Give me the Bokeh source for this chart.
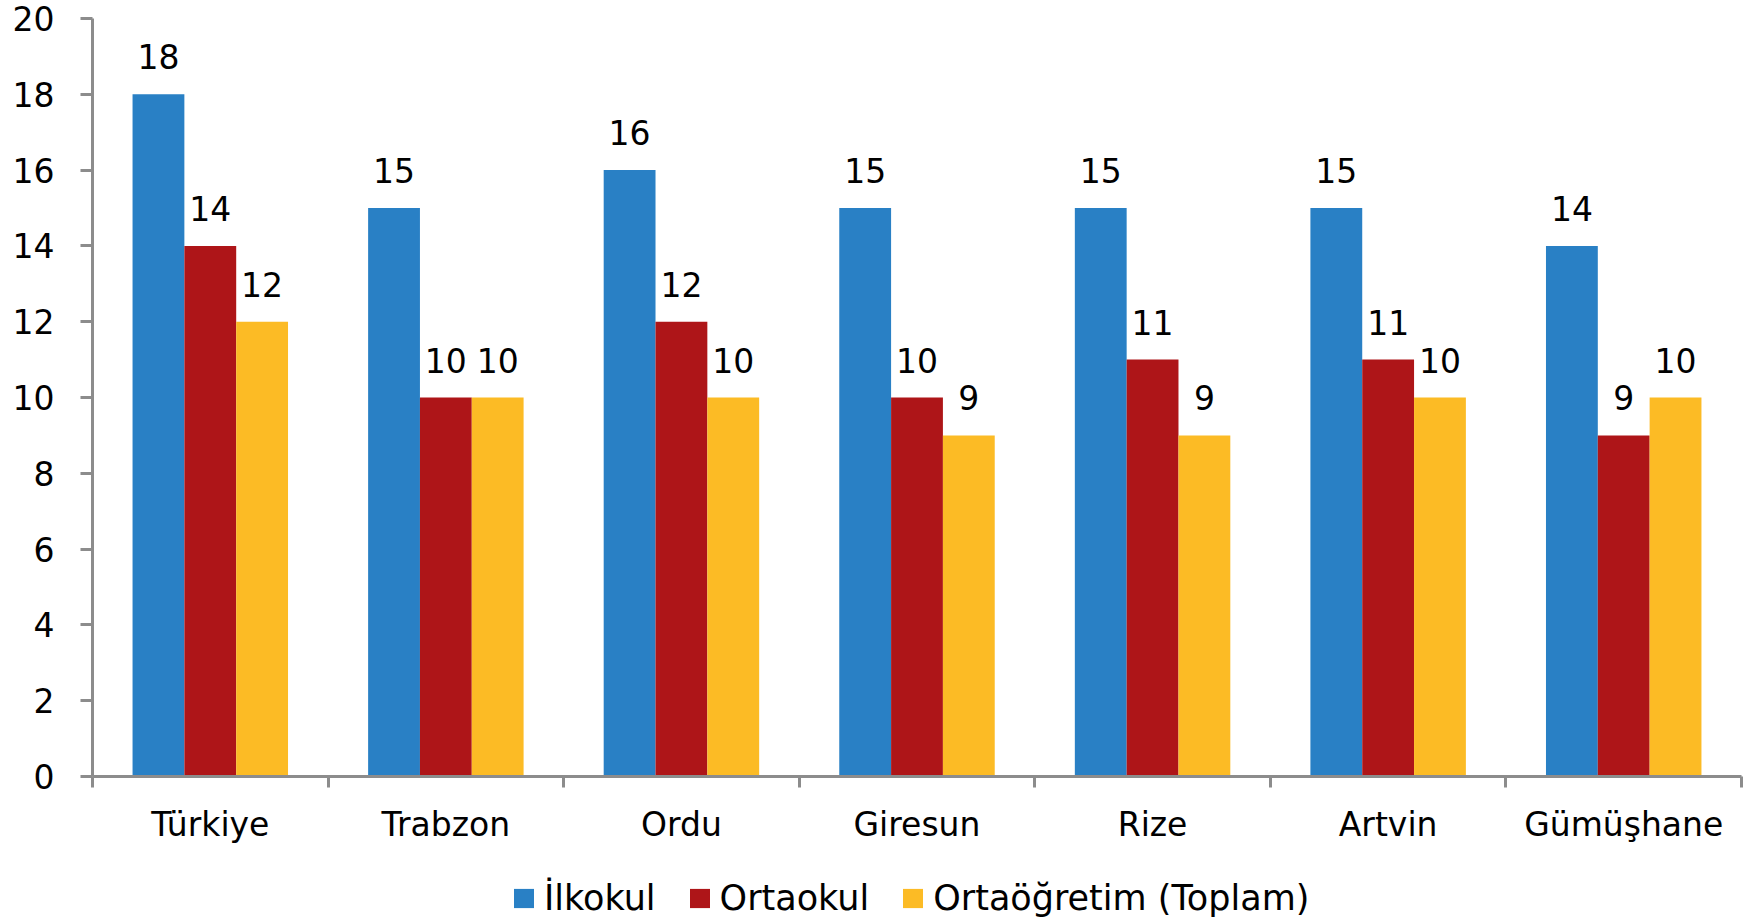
from bokeh.plotting import figure
from bokeh.layouts import column
from bokeh.models import ColumnDataSource, Range1d, FixedTicker, LabelSet, Legend, LegendItem
from bokeh.core.properties import value
from bokeh.embed import file_html
from bokeh.resources import INLINE

categories = ["Türkiye", "Trabzon", "Ordu", "Giresun", "Rize", "Artvin", "Gümüşhane"]
series_names = ["İlkokul", "Ortaokul", "Ortaöğretim (Toplam)"]
ilkokul = [18, 15, 16, 15, 15, 15, 14]
ortaokul = [14, 10, 12, 10, 11, 11, 9]
ortaogretim = [12, 10, 10, 9, 9, 10, 10]
y_ticks = [0, 2, 4, 6, 8, 10, 12, 14, 16, 18, 20]

colors = ["#2980C5", "#AE1518", "#FCBB25"]
FONT = "DejaVu Sans"
FS = "33px"

p = figure(frame_width=1649, frame_height=758, output_backend="svg", toolbar_location=None,
           x_range=Range1d(0, len(categories)), y_range=Range1d(0, 20),
           min_border_left=92, min_border_top=18, min_border_right=4, min_border_bottom=60)
p.outline_line_color = None
p.xgrid.visible = False
p.ygrid.visible = False

bar_w = 0.22
offsets = [-0.22, 0.0, 0.22]
for vals, off, col in zip([ilkokul, ortaokul, ortaogretim], offsets, colors):
    src = ColumnDataSource(dict(x=[i + 0.5 + off for i in range(len(categories))], top=vals,
                                lab=[str(v) for v in vals]))
    p.vbar(x="x", top="top", width=bar_w, bottom=0, source=src, fill_color=col, line_color=None)
    p.add_layout(LabelSet(x="x", y="top", text="lab", source=src, text_align="center",
                          text_baseline="bottom", y_offset=25, text_font=value(FONT),
                          text_font_size=value(FS), text_color="#000000"))

# axes
ax = p.xaxis[0]
ax.ticker = FixedTicker(ticks=[i + 0.5 for i in range(len(categories))],
                        minor_ticks=list(range(len(categories) + 1)))
ax.major_label_overrides = {i + 0.5: c for i, c in enumerate(categories)}
ax.major_tick_line_color = None
ax.major_tick_out = 0
ax.major_tick_in = 0
ax.minor_tick_out = 11
ax.minor_tick_in = 0
ax.minor_tick_line_color = "#8C8C8C"
ax.minor_tick_line_width = 3
ax.axis_line_color = "#8C8C8C"
ax.axis_line_width = 3
ax.major_label_text_font = FONT
ax.major_label_text_font_size = FS
ax.major_label_text_color = "#000000"
ax.major_label_standoff = 17

ay = p.yaxis[0]
ay.ticker = FixedTicker(ticks=y_ticks, minor_ticks=[])
ay.major_tick_out = 12
ay.major_tick_in = 0
ay.major_tick_line_color = "#8C8C8C"
ay.major_tick_line_width = 3
ay.axis_line_color = "#8C8C8C"
ay.axis_line_width = 3
ay.major_label_text_font = FONT
ay.major_label_text_font_size = FS
ay.major_label_text_color = "#000000"
ay.major_label_standoff = 26

# legend strip below the chart
lf = figure(width=1745, height=84, output_backend="svg", toolbar_location=None,
            x_range=Range1d(0, 1), y_range=Range1d(0, 1),
            min_border_left=0, min_border_right=0, min_border_top=0, min_border_bottom=0)
lf.axis.visible = False
lf.grid.visible = False
lf.outline_line_color = None
leg_renderers = []
for col in colors:
    # zero-height swatch renderers: only their legend entries are seen
    leg_renderers.append(lf.vbar(x=[0.5], top=[0], bottom=0, width=0.0, fill_color=col, line_color=None))
legend = Legend(items=[LegendItem(label=n, renderers=[r]) for n, r in zip(series_names, leg_renderers)],
                orientation="horizontal", location=(419, 12),
                label_text_font=FONT, label_text_font_size="35px", label_text_color="#000000",
                glyph_width=25, glyph_height=24, spacing=31, label_standoff=8,
                border_line_color=None, background_fill_alpha=0, margin=0, padding=2)
lf.add_layout(legend, "center")

layout = column(p, lf, spacing=0)
open("out.html", "w").write(file_html(layout, INLINE))
